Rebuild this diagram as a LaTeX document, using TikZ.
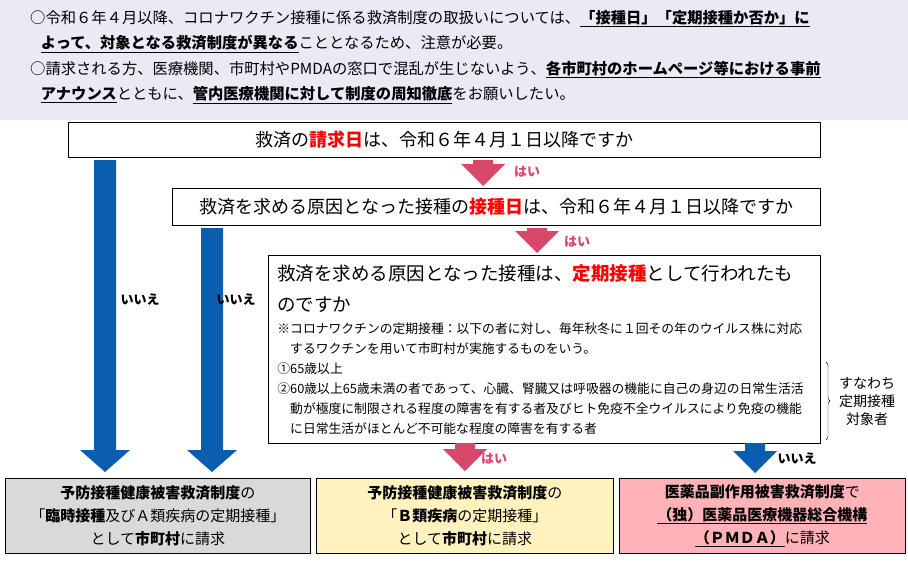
\documentclass[tikz,border=0pt]{standalone}
\usepackage{fontspec}
\setmainfont{Noto Sans CJK JP}
\usepackage{tikz}
\usetikzlibrary{positioning}
\usetikzlibrary{decorations.pathreplacing}
\definecolor{bandbg}{HTML}{EBEAF4}
\definecolor{yesred}{HTML}{D9486B}
\definecolor{noblue}{HTML}{0B5DB0}
\definecolor{graybg}{HTML}{D9D9D9}
\definecolor{yellowbg}{HTML}{FFF2BF}
\definecolor{pinkbg}{HTML}{FFB3B8}
\newcommand{\blockarrow}[6]{% x, top, bottom, colour, shaft half, head half
  \fill[#4] (#1-#5,#2) -- (#1+#5,#2) -- (#1+#5,#3-22) -- (#1+#6,#3-22) -- (#1,#3) -- (#1-#6,#3-22) -- (#1-#5,#3-22) -- cycle;}
\newcommand{\ul}[1]{\underline{#1}}
\begin{document}
\begin{tikzpicture}[
		x=1pt,y=-1pt,
		every node/.append style={
			inner sep=0pt,
		},
		question/.style={draw=black,thick,anchor=north west},
		result/.style={draw=black,thick,minimum height=75pt,text width=290pt,align=center,anchor=north west,font=\fontsize{15}{23}\selectfont},
		yeslabel/.style={text=yesred,font=\fontsize{13}{13}\selectfont\bfseries},
		nolabel/.style={text=black,font=\fontsize{13}{13}\selectfont\bfseries},
	]
	\useasboundingbox (0,0) rectangle (908,570);
	% top band
	\fill[bandbg] (0,0) rectangle (908,120);
	\node[anchor=north west,text width=880pt,font=\fontsize{15.3}{25.5}\selectfont] (notes) at (30,10) {%
		○令和６年４月以降、コロナワクチン接種に係る救済制度の取扱いについては、\textbf{\ul{「接種日」「定期接種か否か」に}}\\
		\hspace*{0.7em}\textbf{\ul{よって、対象となる救済制度が異なる}}こととなるため、注意が必要。\\
		○請求される方、医療機関、市町村やPMDAの窓口で混乱が生じないよう、\textbf{\ul{各市町村のホームページ等における事前}}\\
		\hspace*{0.7em}\textbf{\ul{アナウンス}}とともに、\textbf{\ul{管内医療機関に対して制度の周知徹底}}をお願いしたい。};
	% questions
	\node[question,minimum width=752pt,minimum height=35pt,font=\fontsize{18}{18}\selectfont] (q1) at (68,122) {救済の\textcolor{red}{\textbf{請求日}}は、令和６年４月１日以降ですか};
	\node[question,minimum width=648pt,minimum height=37pt,font=\fontsize{18}{18}\selectfont] (q2) at (172,188) {救済を求める原因となった接種の\textcolor{red}{\textbf{接種日}}は、令和６年４月１日以降ですか};
	\node[question,minimum width=552pt,minimum height=185pt,text width=534pt,inner sep=9pt,align=left,font=\fontsize{18.5}{31}\selectfont] (q3) at (268,255) {%
		救済を求める原因となった接種は、\textcolor{red}{\textbf{定期接種}}として行われたも\\のですか\par
		\vspace{2pt}
		{\fontsize{12.8}{20}\selectfont
		※コロナワクチンの定期接種：以下の者に対し、毎年秋冬に１回その年のウイルス株に対応\\
		\hspace*{1em}するワクチンを用いて市町村が実施するものをいう。\\
		①65歳以上\\
		②60歳以上65歳未満の者であって、心臓、腎臓又は呼吸器の機能に自己の身辺の日常生活活\\
		\hspace*{1em}動が極度に制限される程度の障害を有する者及びヒト免疫不全ウイルスにより免疫の機能\\
		\hspace*{1em}に日常生活がほとんど不可能な程度の障害を有する者\par}};
	\coordinate (bracetop) at (826,362);
	\coordinate (bracebot) at (826,440);
	\draw[decorate,decoration={brace,amplitude=4pt}] (bracetop) -- (bracebot);
	\node[align=center,font=\fontsize{14}{18}\selectfont] (target) at (867,401) {すなわち\\定期接種\\対象者};
	% results
	\node[result,fill=graybg,minimum width=305pt,text width=300pt] (r1) at (5,478) {\textbf{予防接種健康被害救済制度}の\\「\textbf{臨時接種}及びＡ類疾病の定期接種」\\として\textbf{市町村}に請求};
	\node[result,fill=yellowbg,minimum width=297pt] (r2) at (316,478) {\textbf{予防接種健康被害救済制度}の\\「\textbf{Ｂ類疾病}の定期接種」\\として\textbf{市町村}に請求};
	\node[result,fill=pinkbg,minimum width=286pt,text width=280pt] (r3) at (619,478) {\textbf{医薬品副作用被害救済制度}で\\\textbf{\ul{（独）医薬品医療機器総合機構}}\\\textbf{\ul{（ＰＭＤＡ）}}に請求};
	% arrows
	\blockarrow{483}{160}{186}{yesred}{10}{22}
	\node[yeslabel] (yes1) at (527,172) {はい};
	\blockarrow{537}{228}{253}{yesred}{10}{22}
	\node[yeslabel] (yes2) at (577,242) {はい};
	\blockarrow{465}{443}{471}{yesred}{10}{22}
	\node[yeslabel] (yes3) at (494,459) {はい};
	\blockarrow{755}{443}{473}{noblue}{10}{22}
	\node[nolabel] (no3) at (797,459) {いいえ};
	\blockarrow{105}{160}{472}{noblue}{11}{25}
	\node[nolabel] (no1) at (140,300) {いいえ};
	\blockarrow{212}{228}{472}{noblue}{11}{25}
	\node[nolabel] (no2) at (236,300) {いいえ};
\end{tikzpicture}
\end{document}
